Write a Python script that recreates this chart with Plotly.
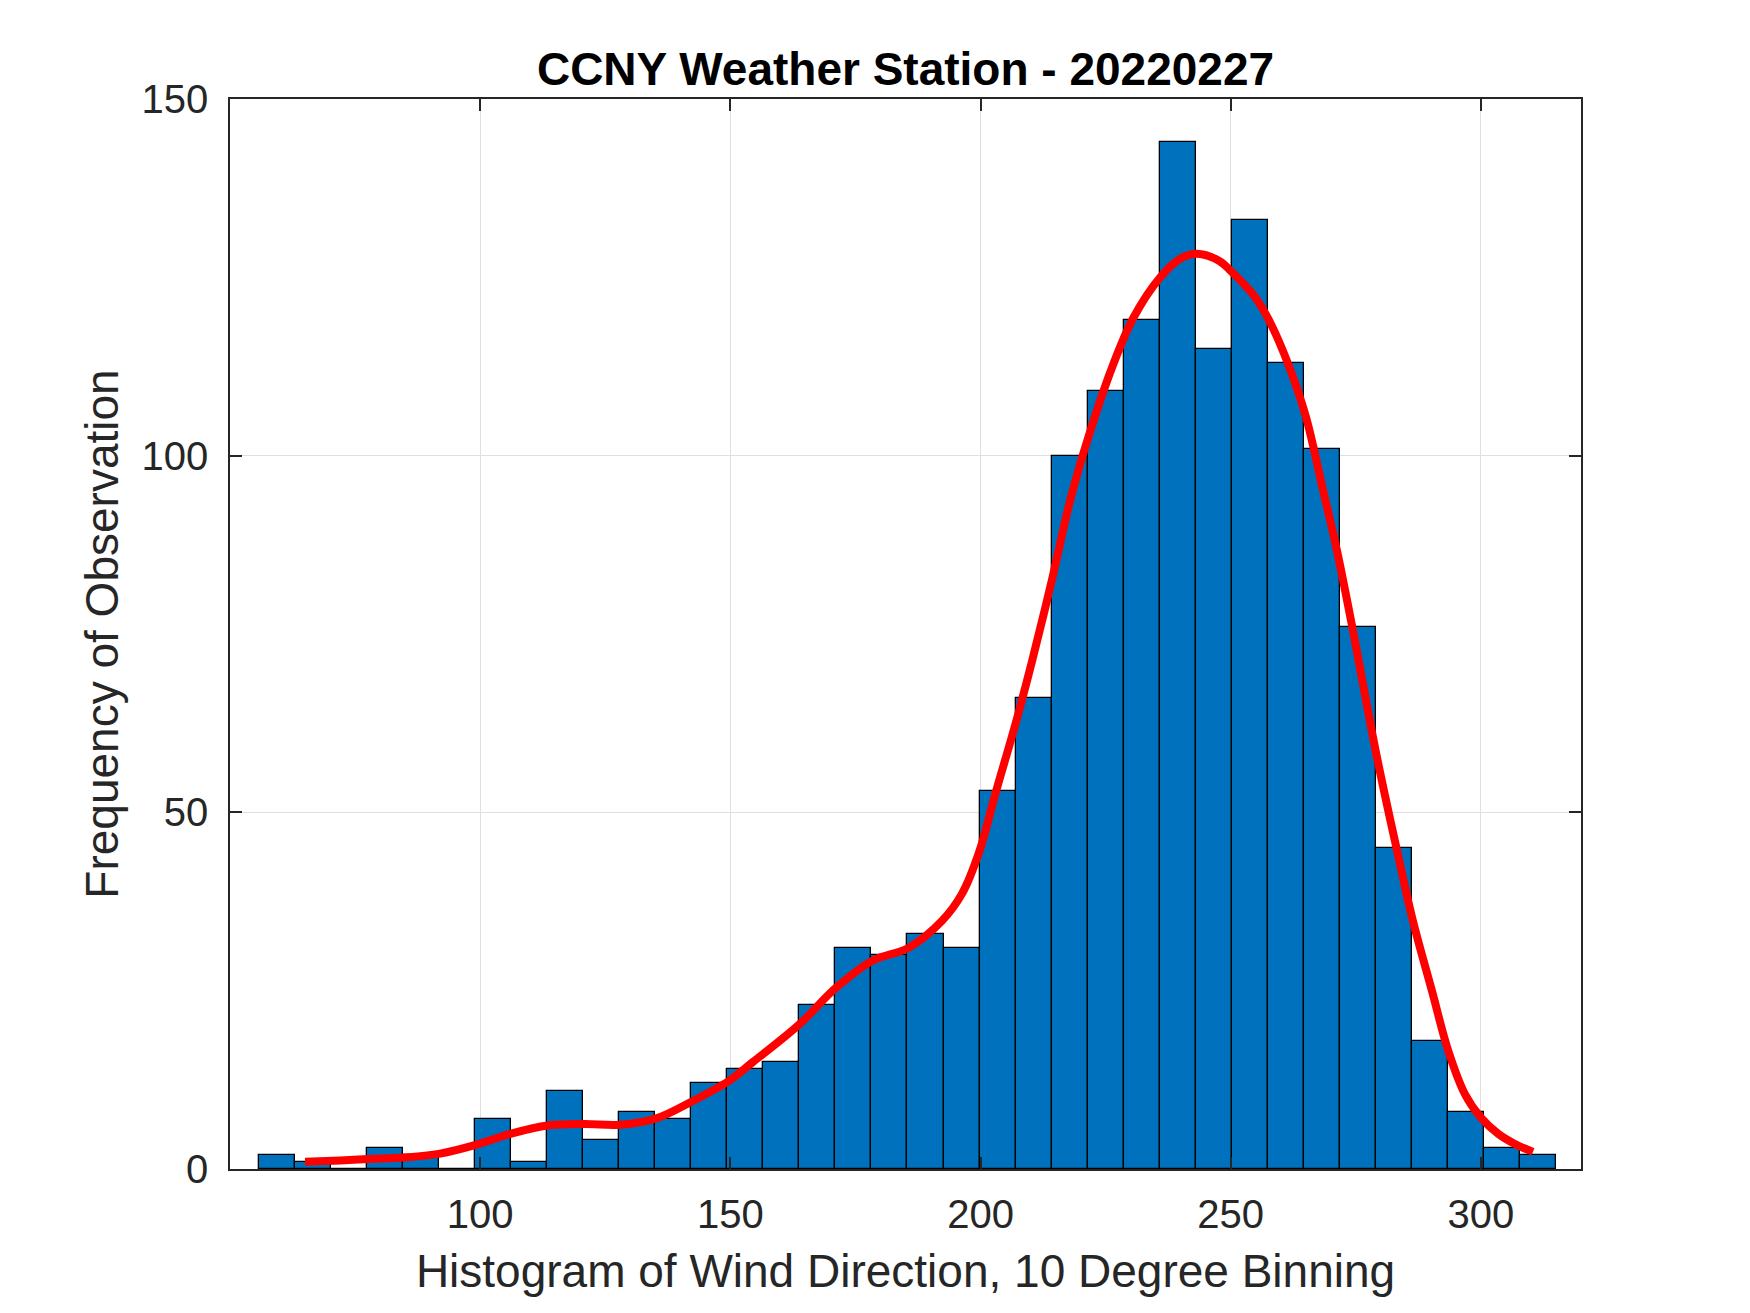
"""
CCNY weather station wind direction histogram with smoothed fit
"""
import plotly.graph_objects as go

# histogram counts per bin (36 bins)
bin_start = 55.7
bin_width = 7.205
counts = [2, 1, 0, 3, 2, 0, 7, 1, 11, 4, 8, 7, 12, 14, 15, 23, 31, 30,
          33, 31, 53, 66, 100, 109, 119, 144, 115, 133, 113, 101, 76, 45, 18, 8, 3, 2]

# red smoothed curve
fit_x = [65, 72, 77.6, 84.8, 92, 99.2, 106.4, 113.5, 120.8, 128, 135.2, 142.4,
         149.6, 154.5, 163.8, 171.1, 178.4, 185.6, 192.3, 196.3, 199.8, 203,
         207.1, 210.3, 214.3, 218, 221.5, 226.3, 230.6, 235.9, 239.9, 243.2,
         247.7, 250, 254.9, 258, 261.5, 265, 268.4, 271.2, 274.2, 279.2,
         283.5, 286.4, 290.2, 293.5, 296.8, 300, 303.5, 306.8, 310.4]
fit_y = [1.0, 1.2, 1.4, 1.6, 2.15, 3.4, 5.0, 6.1, 6.3, 6.2, 7.1, 9.5,
         12.3, 15.0, 20.3, 25.4, 29.2, 31.0, 34.8, 38.6, 44.6, 52.7,
         62.7, 71.2, 82.7, 94.0, 102.5, 112.4, 119.4, 125.0, 127.6, 128.3,
         127.3, 125.9, 122.2, 118.5, 112.8, 105.5, 95.3, 86.8, 76.3, 57.8,
         43.8, 34.8, 25.0, 16.5, 10.5, 7.2, 4.9, 3.5, 2.4]

x_ticks = [100, 150, 200, 250, 300]
y_ticks = [0, 50, 100, 150]

centers = [bin_start + bin_width * (i + 0.5) for i in range(len(counts))]

FONT = 'Liberation Sans, Arial, sans-serif'
AXIS_COLOR = '#262626'

fig = go.Figure()
fig.add_trace(go.Bar(
    x=centers,
    y=counts,
    width=bin_width,
    marker=dict(color='#0072BD', line=dict(color='black', width=1.3)),
    showlegend=False,
))
fig.add_trace(go.Scatter(
    x=fit_x,
    y=fit_y,
    mode='lines',
    line=dict(color='#FF0000', width=8, shape='spline'),
    showlegend=False,
))

axis_common = dict(
    showline=True,
    linecolor=AXIS_COLOR,
    linewidth=1.5,
    mirror='ticks',
    ticks='inside',
    ticklen=12,
    tickwidth=1.5,
    tickcolor=AXIS_COLOR,
    showgrid=True,
    gridcolor='#dfdfdf',
    gridwidth=1.2,
    zeroline=False,
    tickfont=dict(family=FONT, size=40, color=AXIS_COLOR),
)

fig.update_layout(
    width=1750,
    height=1313,
    margin=dict(l=222, r=177, t=91, b=152),
    plot_bgcolor='white',
    paper_bgcolor='white',
    bargap=0,
    title=dict(
        text='<b>CCNY Weather Station - 20220227</b>',
        x=0.5, xref='paper', xanchor='center',
        y=1 - 61 / 1313, yanchor='middle',
        font=dict(family=FONT, size=46, color='black'),
    ),
    xaxis=dict(
        axis_common,
        range=[50, 320],
        tickvals=x_ticks,
        ticklabelstandoff=9,
        title=dict(text='Histogram of Wind Direction, 10 Degree Binning',
                   font=dict(family=FONT, size=46, color=AXIS_COLOR),
                   standoff=20),
    ),
    yaxis=dict(
        axis_common,
        range=[0, 150],
        tickvals=y_ticks,
        ticklabelstandoff=12,
        title=dict(text='Frequency of Observation',
                   font=dict(family=FONT, size=46, color=AXIS_COLOR),
                   standoff=8),
    ),
)

fig.write_html('out.html')
